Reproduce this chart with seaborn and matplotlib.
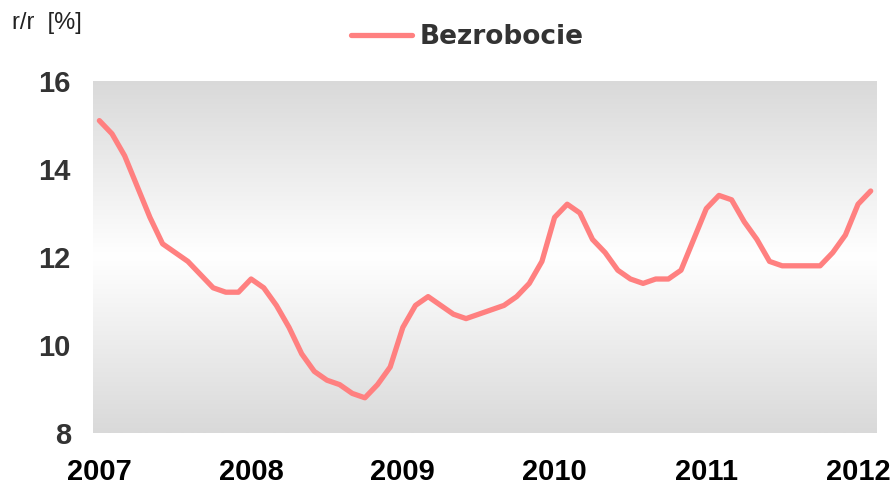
import numpy as np
import pandas as pd
import seaborn as sns
import matplotlib.pyplot as plt
from matplotlib.colors import LinearSegmentedColormap

# monthly y/y unemployment values, Jan 2007 .. Feb 2012
values = [15.1, 14.8, 14.3, 13.6, 12.9, 12.3, 12.1, 11.9, 11.6, 11.3, 11.2, 11.2,
          11.5, 11.3, 10.9, 10.4, 9.8, 9.4, 9.2, 9.1, 8.9, 8.8, 9.1, 9.5,
          10.4, 10.9, 11.1, 10.9, 10.7, 10.6, 10.7, 10.8, 10.9, 11.1, 11.4, 11.9,
          12.9, 13.2, 13.0, 12.4, 12.1, 11.7, 11.5, 11.4, 11.5, 11.5, 11.7, 12.4,
          13.1, 13.4, 13.3, 12.8, 12.4, 11.9, 11.8, 11.8, 11.8, 11.8, 12.1, 12.5,
          13.2, 13.5]
years = ["2007", "2008", "2009", "2010", "2011", "2012"]
yticks = [8, 10, 12, 14, 16]
series_name = "Bezrobocie"

df = pd.DataFrame({"month": np.arange(len(values)), "value": values, "series": series_name})

sns.set_style("white")
fig = plt.figure(figsize=(8.92, 4.90), dpi=100)
ax = fig.add_axes([0.1043, 0.1163, 0.8789, 0.7184])

# grey-white-grey vertical gradient behind the plot
cmap = LinearSegmentedColormap.from_list("bg", ["#d9d9d9", "#ffffff", "#d9d9d9"])
grad = np.linspace(0, 1, 256).reshape(-1, 1)
ax.imshow(grad, cmap=cmap, aspect="auto", extent=(-0.5, len(values) - 0.5, 8, 16),
          origin="lower", zorder=0)

sns.lineplot(data=df, x="month", y="value", hue="series", palette=["#ff8080"],
             linewidth=3.8, ax=ax, legend=True, zorder=2)

ax.set_xlim(-0.5, len(values) - 0.5)
ax.set_ylim(8, 16)
ax.set_xticks([12 * i for i in range(len(years))])
ax.set_xticklabels(years)
ax.set_yticks(yticks)
ax.set_xlabel("")
ax.set_ylabel("")
for s in ax.spines.values():
    s.set_visible(False)
ax.tick_params(axis="y", length=0, pad=16, labelsize=21, labelcolor="#333333")
ax.tick_params(axis="x", length=0, pad=18, labelsize=21, labelcolor="#000000")
for lab in ax.get_xticklabels() + ax.get_yticklabels():
    lab.set_fontweight("bold")
    lab.set_fontfamily("Liberation Sans")

handles, labels = ax.get_legend_handles_labels()
ax.get_legend().remove()
fig.legend(handles, labels, loc="center", bbox_to_anchor=(0.524, 0.924), frameon=False,
           handlelength=2.3, handletextpad=0.3,
           prop={"family": "DejaVu Sans", "weight": "bold", "size": 19})
for t in fig.legends[0].get_texts():
    t.set_color("#333333")

fig.text(0.013, 0.953, "r/r  [%]", fontsize=17, family="Liberation Sans",
         color="#222222", va="center", ha="left")

fig.savefig("out.png", dpi=100)
